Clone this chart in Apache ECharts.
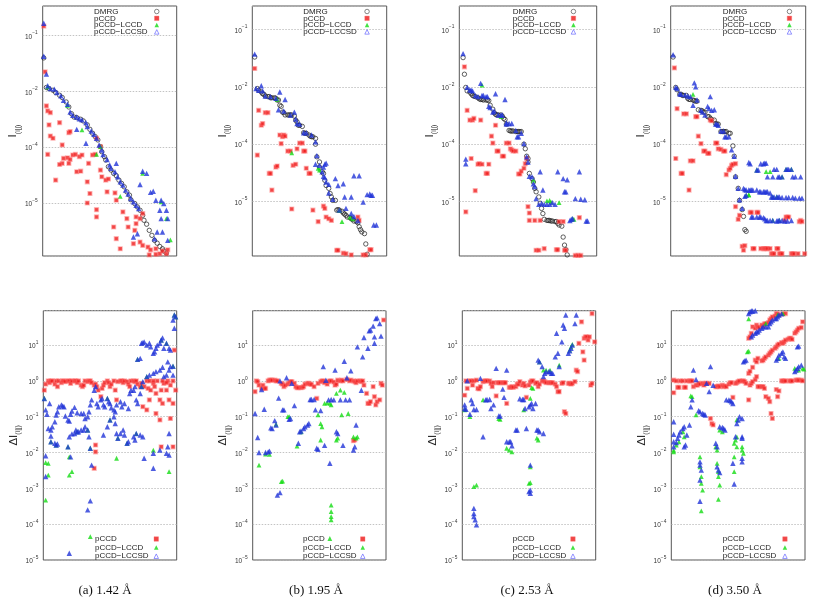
<!DOCTYPE html>
<html><head><meta charset="utf-8">
<script src="https://cdn.jsdelivr.net/npm/echarts@6/dist/echarts.min.js"></script>
<style>html,body{margin:0;padding:0;background:#fff}#c{width:830px;height:602px}</style>
</head><body><div id="c"></div>
<script>
// Each point: [orbital-pair index (% of panel width), log10(value)]
// ---- (a) 1.42 Å, I(i|j) ----
const aTopDMRG=[[0,-1.40],[2,-1.93],[4,-1.95],[7,-1.98],[9,-2.02],[12,-2.07],[14,-2.11],[17,-2.19],[19,-2.28],[21,-2.40],[23,-2.46],[25,-2.47],[28,-2.50],[30,-2.53],[33,-2.60],[35,-2.68],[37,-2.75],[39,-2.81],[41,-2.87],[43,-2.99],[44,-3.08],[46,-3.17],[47,-3.23],[49,-3.35],[51,-3.41],[53,-3.47],[55,-3.51],[57,-3.59],[59,-3.65],[61,-3.71],[63,-3.80],[65,-3.86],[66,-3.94],[69,-4.01],[71,-4.07],[73,-4.13],[75,-4.22],[76,-4.31],[78,-4.38],[80,-4.49],[82,-4.58],[84,-4.67],[86,-4.72],[88,-4.78],[90,-4.82],[91,-4.86],[93,-4.90]];
const aTopPCCD=[[0,-0.83],[1,-1.65],[2,-2.26],[3,-2.35],[5,-2.38],[4,-2.60],[12,-2.56],[5,-2.80],[7,-2.84],[3,-3.13],[14,-2.96],[19,-2.74],[20,-2.72],[18,-3.19],[15,-3.20],[14,-3.29],[12,-3.31],[9,-3.59],[22,-3.14],[24,-3.13],[27,-3.17],[20,-3.22],[19,-3.29],[29,-3.14],[25,-3.44],[28,-3.43],[34,-3.29],[33,-3.62],[37,-3.14],[39,-3.13],[40,-2.84],[43,-2.99],[35,-3.83],[33,-4.00],[40,-4.12],[40,-4.25],[43,-3.41],[44,-3.53],[47,-3.59],[49,-3.57],[48,-3.80],[54,-3.82],[55,-3.95],[53,-4.43],[55,-4.64],[60,-4.16],[63,-4.28],[64,-4.43],[70,-4.25],[70,-4.37],[69,-4.49],[73,-4.28],[75,-4.19],[73,-4.70],[75,-4.76],[79,-4.79],[81,-4.84],[85,-4.82],[88,-4.91],[90,-4.86],[93,-4.91],[94,-4.84],[58,-4.82],[68,-4.73],[80,-4.93],[85,-4.92]];
const aTopLCCD=[[3,-1.92],[18,-2.25],[29,-2.69],[40,-3.13],[43,-2.99],[58,-3.88],[75,-3.47],[89,-3.98],[93,-4.28],[96,-4.66]];
const aTopLCCSD=[[0,-0.78],[0,-1.37],[2,-1.69],[3,-1.90],[5,-1.95],[8,-1.96],[10,-2.02],[13,-2.08],[15,-2.16],[18,-2.23],[20,-2.37],[22,-2.43],[25,-2.46],[27,-2.49],[29,-2.51],[32,-2.56],[25,-2.68],[32,-2.93],[33,-2.63],[36,-2.71],[38,-2.77],[40,-2.84],[42,-2.96],[44,-3.05],[45,-3.13],[48,-3.22],[50,-3.32],[51,-3.38],[54,-3.44],[55,-3.29],[56,-3.53],[58,-3.62],[60,-3.68],[62,-3.77],[64,-3.84],[66,-3.92],[68,-3.98],[68,-4.61],[70,-4.04],[71,-4.55],[72,-4.10],[73,-3.67],[75,-3.43],[78,-3.47],[81,-3.81],[83,-3.79],[85,-3.95],[88,-4.13],[89,-3.95],[91,-4.01],[93,-4.13],[89,-4.28],[94,-4.28],[86,-4.52],[90,-4.52],[94,-4.67],[84,-4.64]];
// ---- (b) 1.95 Å, I(i|j) ----
const bTopDMRG=[[1,-1.48],[3,-2.03],[4,-2.06],[6,-2.09],[7,-2.12],[8,-2.13],[9,-2.16],[11,-2.17],[12,-2.17],[13,-2.19],[14,-2.19],[16,-2.19],[17,-2.20],[18,-2.23],[19,-2.23],[20,-2.32],[21,-2.34],[22,-2.44],[23,-2.45],[24,-2.49],[26,-2.49],[27,-2.49],[28,-2.49],[29,-2.49],[31,-2.51],[32,-2.58],[33,-2.61],[34,-2.67],[35,-2.67],[37,-2.69],[38,-2.80],[39,-2.81],[40,-2.81],[42,-2.84],[43,-2.86],[44,-2.87],[45,-2.87],[47,-2.90],[47,-3.00],[48,-3.22],[50,-3.31],[50,-3.40],[52,-3.48],[53,-3.51],[54,-3.63],[55,-3.72],[57,-3.77],[58,-3.86],[59,-3.92],[60,-3.98],[62,-3.98],[63,-4.15],[64,-4.14],[65,-4.15],[67,-4.17],[68,-4.20],[69,-4.22],[70,-4.24],[71,-4.27],[73,-4.28],[74,-4.30],[75,-4.31],[76,-4.34],[78,-4.35],[79,-4.37],[80,-4.44],[81,-4.49],[82,-4.53],[84,-4.56],[85,-4.74],[86,-4.92]];
const bTopPCCD=[[1,-1.68],[3,-3.19],[4,-2.41],[6,-2.67],[7,-2.64],[9,-2.45],[11,-2.45],[12,-3.51],[13,-3.51],[14,-3.80],[17,-3.40],[18,-3.38],[20,-2.84],[22,-2.87],[23,-2.84],[21,-2.99],[24,-2.86],[26,-3.12],[28,-3.12],[29,-4.13],[30,-3.37],[32,-3.35],[33,-3.08],[35,-2.98],[37,-2.98],[38,-3.12],[39,-3.12],[40,-3.42],[42,-3.51],[43,-3.51],[45,-4.15],[49,-4.35],[53,-4.08],[54,-4.12],[55,-4.27],[57,-4.30],[59,-4.33],[63,-4.85],[64,-4.85],[68,-4.90],[70,-4.91],[74,-4.93],[83,-4.93],[85,-4.93],[88,-4.84],[89,-4.84],[79,-4.27],[80,-4.33]];
const bTopLCCD=[[18,-2.22],[29,-3.15],[49,-3.42],[50,-3.45],[65,-4.16],[67,-4.35],[73,-4.27],[75,-4.30]];
const bTopLCCSD=[[1,-1.43],[2,-2.03],[4,-2.06],[6,-1.98],[7,-2.07],[9,-2.16],[13,-2.17],[17,-2.20],[20,-2.09],[19,-2.40],[23,-2.42],[24,-2.22],[28,-2.49],[31,-2.44],[32,-2.56],[33,-2.64],[35,-2.65],[38,-2.80],[40,-2.80],[44,-2.84],[47,-2.96],[48,-3.20],[47,-3.35],[50,-3.37],[53,-3.40],[54,-3.35],[55,-3.33],[52,-3.48],[53,-3.56],[54,-3.58],[55,-3.66],[57,-3.70],[57,-3.85],[60,-3.96],[62,-3.60],[64,-3.72],[68,-3.69],[69,-3.92],[74,-3.92],[76,-3.55],[80,-3.55],[83,-4.01],[86,-3.88],[88,-3.87],[89,-3.89],[90,-3.89],[91,-4.41],[93,-4.41],[70,-4.12],[74,-4.21],[76,-4.26],[65,-4.15],[79,-4.33]];
// ---- (c) 2.53 Å, I(i|j) ----
const cTopDMRG=[[2,-1.49],[3,-1.78],[4,-2.01],[5,-2.07],[7,-2.09],[8,-2.12],[9,-2.15],[10,-2.16],[11,-2.17],[13,-2.19],[14,-2.21],[15,-2.22],[16,-2.22],[17,-2.23],[19,-2.23],[20,-2.23],[21,-2.24],[22,-2.32],[24,-2.39],[25,-2.45],[26,-2.48],[27,-2.49],[28,-2.49],[30,-2.49],[31,-2.51],[32,-2.55],[33,-2.57],[34,-2.65],[36,-2.76],[37,-2.77],[38,-2.77],[39,-2.77],[41,-2.78],[42,-2.78],[43,-2.78],[44,-2.78],[45,-2.78],[47,-3.00],[48,-3.08],[49,-3.21],[50,-3.25],[50,-3.31],[51,-3.51],[53,-3.60],[54,-3.66],[55,-3.77],[56,-3.83],[58,-3.92],[59,-4.03],[60,-4.12],[61,-4.21],[62,-4.31],[64,-4.33],[65,-4.33],[66,-4.33],[67,-4.34],[68,-4.34],[70,-4.35],[71,-4.35],[72,-4.38],[73,-4.41],[75,-4.43],[76,-4.62],[77,-4.76],[78,-4.84],[79,-4.93]];
const cTopPCCD=[[3,-1.65],[4,-4.18],[5,-2.41],[7,-2.58],[8,-3.25],[9,-2.58],[10,-2.55],[11,-3.81],[13,-3.35],[15,-2.58],[14,-3.34],[16,-3.35],[19,-3.51],[20,-3.51],[21,-3.35],[23,-2.86],[24,-2.98],[26,-2.67],[27,-3.12],[28,-3.12],[31,-3.21],[32,-3.21],[34,-2.98],[36,-2.98],[37,-3.08],[38,-3.10],[39,-3.12],[41,-3.12],[43,-3.52],[44,-3.52],[45,-3.47],[47,-3.42],[48,-3.34],[49,-3.25],[50,-4.09],[51,-4.20],[51,-4.33],[55,-4.33],[56,-4.85],[58,-4.85],[59,-4.33],[62,-4.82],[71,-4.84],[72,-4.84],[73,-4.35],[76,-4.35],[77,-4.85],[78,-4.85],[85,-4.94],[87,-4.94],[89,-4.94],[88,-4.28]];
const cTopLCCD=[[16,-1.97],[30,-2.52],[54,-3.63],[64,-3.99],[66,-3.98],[67,-4.01],[73,-4.02],[83,-4.30],[84,-4.31]];
const cTopLCCSD=[[2,-1.42],[4,-3.26],[4,-3.34],[5,-2.01],[7,-2.05],[8,-2.06],[9,-2.07],[11,-2.15],[13,-2.17],[15,-1.94],[16,-2.15],[17,-2.15],[19,-2.17],[20,-2.17],[21,-2.34],[22,-2.36],[24,-2.44],[25,-2.42],[26,-2.12],[28,-2.49],[30,-2.49],[31,-2.49],[33,-2.22],[34,-2.65],[34,-2.63],[36,-2.64],[38,-2.64],[41,-2.76],[42,-2.87],[43,-2.87],[45,-2.81],[47,-2.99],[49,-3.22],[50,-3.31],[51,-3.56],[53,-3.57],[54,-3.69],[55,-3.74],[56,-3.95],[58,-4.05],[59,-3.48],[60,-4.03],[61,-3.80],[62,-4.05],[64,-4.05],[66,-4.05],[68,-4.02],[70,-4.05],[72,-3.48],[76,-3.60],[77,-3.83],[78,-3.83],[79,-3.62],[81,-4.33],[82,-4.31],[83,-4.30],[85,-3.95],[88,-3.48],[89,-3.96],[92,-3.97],[93,-4.34],[94,-4.34]];
// ---- (d) 3.50 Å, I(i|j) ----
const dTopDMRG=[[1,-1.48],[3,-2.01],[4,-2.05],[6,-2.13],[7,-2.13],[8,-2.15],[9,-2.15],[11,-2.15],[12,-2.20],[13,-2.22],[14,-2.22],[16,-2.23],[17,-2.24],[18,-2.25],[19,-2.25],[20,-2.40],[22,-2.41],[23,-2.42],[24,-2.44],[25,-2.44],[27,-2.52],[28,-2.52],[29,-2.55],[30,-2.57],[32,-2.58],[33,-2.64],[34,-2.65],[35,-2.65],[37,-2.78],[38,-2.78],[39,-2.78],[40,-2.78],[41,-2.78],[43,-2.81],[44,-2.81],[46,-3.03],[47,-3.21],[48,-3.57],[50,-3.77],[51,-3.98],[53,-4.14],[54,-4.26],[55,-4.49],[56,-4.52]];
const dTopPCCD=[[2,-1.67],[3,-3.25],[4,-2.38],[7,-3.51],[8,-3.51],[13,-3.80],[9,-2.47],[11,-2.47],[14,-3.29],[16,-3.29],[18,-2.52],[19,-2.52],[20,-2.86],[22,-2.99],[24,-3.12],[25,-3.12],[27,-3.16],[28,-3.16],[29,-2.58],[30,-2.59],[33,-2.98],[34,-2.98],[35,-3.08],[37,-3.09],[39,-3.12],[40,-3.12],[41,-3.53],[43,-3.45],[44,-3.42],[45,-3.37],[46,-3.35],[48,-3.34],[48,-4.09],[50,-4.31],[51,-4.24],[53,-4.78],[54,-4.85],[55,-4.77],[59,-4.19],[60,-4.19],[61,-4.82],[62,-4.82],[64,-4.19],[65,-4.19],[67,-4.82],[69,-4.82],[70,-4.82],[71,-4.82],[72,-4.82],[74,-4.82],[75,-4.91],[76,-4.91],[77,-4.91],[79,-4.82],[80,-4.82],[81,-4.91],[82,-4.91],[83,-4.91],[85,-4.33],[86,-4.27],[87,-4.27],[88,-4.27],[90,-4.91],[91,-4.91],[92,-4.91],[95,-4.91],[96,-4.35],[97,-4.33],[98,-4.35],[100,-4.91]];
const dTopLCCD=[[16,-2.13],[56,-3.89],[58,-3.88],[58,-3.89],[71,-3.48],[74,-3.48],[76,-3.92],[79,-3.92],[64,-3.45],[86,-3.44],[90,-3.44],[83,-3.57],[76,-4.33],[81,-4.33]];
const dTopLCCSD=[[1,-1.44],[3,-2.01],[4,-2.03],[6,-2.12],[7,-2.13],[10,-2.14],[12,-2.16],[14,-2.17],[16,-2.32],[17,-1.93],[18,-2.00],[19,-2.23],[22,-2.41],[23,-2.44],[25,-2.49],[27,-2.34],[28,-2.38],[29,-2.17],[30,-2.41],[32,-2.40],[33,-2.65],[34,-2.65],[35,-2.67],[37,-2.77],[39,-2.77],[40,-2.87],[41,-2.87],[43,-2.87],[45,-3.10],[47,-3.21],[48,-3.56],[50,-3.77],[51,-3.97],[53,-4.12],[54,-3.77],[55,-3.79],[56,-3.80],[58,-3.80],[59,-3.80],[60,-3.80],[61,-3.80],[64,-3.80],[66,-3.83],[67,-3.83],[69,-3.83],[70,-3.83],[71,-3.83],[72,-3.83],[74,-3.85],[75,-3.92],[76,-3.92],[77,-3.92],[79,-3.92],[80,-3.92],[81,-3.92],[83,-3.93],[86,-3.93],[88,-3.93],[91,-3.93],[93,-3.94],[96,-3.94],[98,-3.94],[58,-3.32],[59,-3.34],[64,-3.45],[65,-3.45],[67,-3.34],[69,-3.34],[70,-3.33],[71,-3.33],[72,-3.57],[76,-3.57],[77,-3.44],[79,-3.44],[80,-3.57],[81,-3.57],[83,-3.57],[86,-3.44],[87,-3.44],[88,-3.44],[90,-3.44],[91,-3.57],[93,-3.57],[97,-3.57],[60,-4.27],[61,-4.27],[64,-4.27],[66,-4.27],[67,-4.27],[69,-4.28],[70,-4.30],[71,-4.33],[72,-4.33],[74,-4.33],[76,-4.33],[79,-4.34],[80,-4.33],[81,-4.33],[83,-4.33],[85,-4.34],[87,-4.34],[90,-4.33],[55,-3.91],[56,-3.89]];
// ---- ΔI(i|j), panel (a) ----
const aBotPCCD=[[0,-0.26],[1,-0.09],[3,0.00],[4,-0.05],[5,0.00],[6,0.00],[8,-0.09],[9,0.00],[10,-0.16],[11,0.00],[13,-0.05],[14,0.00],[15,0.00],[16,-0.02],[18,0.00],[19,0.00],[20,-0.07],[21,0.00],[23,0.00],[24,0.00],[25,-0.05],[26,0.00],[28,-0.12],[29,-0.16],[30,-0.12],[31,0.00],[33,-0.02],[34,0.00],[35,0.00],[36,-0.05],[38,-0.12],[39,-0.09],[40,-0.16],[41,-0.26],[43,-0.44],[44,-0.21],[45,-0.12],[46,-0.05],[48,0.00],[49,-0.05],[50,-0.16],[51,-0.09],[53,0.00],[54,-0.26],[55,-0.53],[56,-0.02],[58,0.00],[59,0.00],[60,-0.05],[61,0.00],[63,-0.02],[64,-0.09],[65,-0.16],[66,0.00],[68,0.00],[69,-0.02],[70,0.00],[71,-0.09],[73,-0.16],[74,-0.07],[75,-0.72],[76,-0.16],[78,-0.81],[79,-0.21],[80,-0.53],[81,-0.26],[83,-0.07],[84,-0.16],[85,-0.35],[86,0.00],[88,-0.53],[89,-0.26],[90,-0.63],[91,-0.07],[93,-0.26],[94,0.00],[95,-0.53],[96,-0.12],[98,-0.63],[99,0.86],[100,-0.26],[85,-0.91],[88,-1.09],[96,-1.05],[89,-1.84],[98,-1.84],[39,-1.79],[39,-1.98],[38,-2.44],[78,0.00],[80,0.00],[83,0.00],[90,0.00],[93,-0.05],[98,0.00]];
const aBotLCCD=[[1,-3.33],[1,-2.28],[3,-2.30],[3,-2.63],[19,-2.12],[19,-2.63],[21,-2.53],[55,-2.16],[83,-1.93],[95,-2.53],[35,-4.35],[0,-0.49],[5,-1.70],[9,-1.79],[25,-1.42],[33,-1.37],[50,-1.09],[63,-1.74],[74,-0.16],[78,0.12],[89,1.14],[93,1.05],[99,1.84],[100,1.79],[98,0.41],[71,0.60],[35,-1.88],[18,-1.84],[56,-1.60],[70,-1.47],[48,-0.49]];
const aBotLCCSD=[[0,-0.49],[1,-0.81],[2,-0.93],[4,-0.63],[3,-1.33],[5,-1.37],[5,-1.54],[6,-1.28],[8,-1.14],[9,-0.95],[10,-0.86],[11,-0.72],[13,-0.67],[14,-0.70],[15,-0.72],[16,-0.98],[18,-1.09],[19,-1.12],[20,-0.93],[21,-0.84],[23,-0.74],[25,-0.89],[28,-0.91],[30,-0.91],[31,-1.05],[33,-1.00],[34,-0.86],[35,-0.67],[36,-0.53],[38,-0.26],[39,-0.16],[40,-0.63],[41,-0.72],[43,-0.53],[44,-0.49],[45,-0.67],[46,-0.72],[48,-0.49],[49,-0.58],[50,-0.63],[51,-0.75],[53,-0.81],[54,-0.86],[55,-0.67],[58,-0.58],[59,-0.72],[61,-0.63],[64,-0.77],[65,-0.35],[66,-0.26],[68,-0.26],[69,-0.16],[70,-0.53],[71,-0.63],[73,-0.35],[74,-0.16],[75,-0.02],[78,0.12],[80,0.16],[83,0.21],[85,0.26],[88,0.30],[90,0.38],[91,0.12],[93,0.16],[95,0.30],[96,0.40],[71,0.60],[73,0.63],[74,1.05],[75,1.07],[76,1.09],[78,1.00],[80,1.05],[81,0.95],[83,0.77],[84,0.81],[85,0.91],[86,1.00],[88,1.05],[89,1.14],[90,1.20],[91,0.91],[93,1.05],[94,0.53],[95,0.91],[96,0.86],[98,0.41],[98,0.16],[99,1.47],[100,1.79],[99,1.84],[98,1.70],[5,-1.70],[8,-1.74],[9,-1.79],[10,-1.76],[18,-1.84],[19,-1.56],[21,-1.48],[23,-1.47],[24,-1.37],[25,-1.42],[26,-1.42],[28,-1.37],[30,-1.37],[31,-1.28],[33,-1.37],[34,-1.56],[35,-1.88],[36,-2.35],[45,-1.51],[48,-1.28],[50,-1.09],[53,-1.00],[54,-1.19],[55,-1.47],[56,-1.60],[58,-1.47],[60,-1.37],[61,-1.51],[63,-1.74],[64,-1.70],[68,-1.56],[69,-1.65],[70,-1.47],[73,-1.51],[75,-1.56],[83,-2.02],[88,-1.93],[93,-2.02],[94,-1.84],[95,-1.47],[1,-2.09],[1,-2.67],[20,-2.12],[35,-3.35],[33,-3.60],[19,-4.81],[76,-2.16],[83,-2.44],[95,-2.07]];
// ---- ΔI(i|j), panel (b) ----
const bBotPCCD=[[1,-0.30],[2,0.00],[3,-0.02],[4,-0.12],[6,-0.21],[7,-0.12],[8,-0.21],[9,-0.21],[11,0.00],[12,0.02],[13,0.02],[14,0.02],[16,0.02],[17,0.00],[18,0.00],[21,-0.07],[22,-0.09],[23,-0.16],[24,-0.12],[26,-0.09],[27,-0.05],[28,-0.02],[29,-0.02],[31,-0.07],[32,-0.16],[33,-0.19],[34,-0.19],[36,-0.19],[37,-0.18],[38,-0.16],[39,-0.09],[41,-0.07],[42,-0.07],[43,-0.09],[44,-0.10],[46,-0.16],[48,-0.49],[49,-0.07],[51,-0.02],[52,0.00],[53,0.00],[54,-0.05],[56,-0.09],[57,-0.02],[58,0.00],[59,0.00],[61,-0.03],[62,-0.12],[63,-0.09],[64,0.02],[66,0.00],[67,0.02],[68,0.00],[71,0.04],[73,0.00],[74,0.02],[76,0.00],[77,-0.02],[78,-0.05],[79,0.00],[81,0.00],[82,-0.02],[83,0.00],[84,-0.12],[86,-0.35],[87,-0.63],[88,-0.63],[89,-0.58],[91,-0.16],[92,-0.44],[93,-0.67],[94,-0.58],[96,-0.53],[97,-0.07],[98,-0.12],[99,1.70],[76,-1.67],[77,-1.65]];
const bBotLCCD=[[4,-2.35],[9,-2.04],[12,-2.05],[17,-1.21],[26,-1.00],[27,-1.00],[33,-1.82],[36,-1.42],[49,-0.95],[51,-1.19],[52,-1.28],[51,-1.65],[54,-0.63],[56,-0.61],[58,-0.63],[59,-0.67],[22,-2.80],[21,-2.81],[59,-3.47],[59,-3.65],[59,-3.79],[59,-3.88],[58,-4.40],[63,-1.65],[64,-1.60],[66,-0.26],[67,-0.95],[69,-0.32],[72,-0.91],[76,-1.56],[78,-1.60],[79,-1.56],[63,-0.35]];
const bBotLCCSD=[[1,-0.91],[3,-1.58],[4,-2.00],[6,-0.24],[8,-0.79],[9,-2.00],[11,-1.98],[12,-1.96],[13,-1.31],[14,-1.33],[16,-1.11],[17,-1.23],[19,-0.48],[20,0.00],[22,-0.81],[23,-0.81],[25,0.09],[27,-1.07],[28,-1.05],[29,-0.07],[31,-0.69],[34,-1.74],[35,-1.42],[36,-1.40],[38,-1.33],[39,-1.28],[41,-1.23],[42,-1.19],[43,-0.52],[44,-0.52],[46,-0.52],[47,-0.81],[48,-1.88],[49,-1.91],[51,-0.83],[53,0.40],[54,-1.80],[55,0.02],[57,-0.53],[58,-2.30],[59,-0.52],[61,-0.53],[62,0.30],[63,-1.42],[64,-1.47],[66,-0.53],[68,-1.80],[69,0.55],[70,-0.53],[71,0.09],[73,-0.53],[74,0.28],[76,-1.93],[77,-1.84],[78,-1.23],[79,0.95],[82,-0.26],[83,0.67],[84,1.21],[87,0.91],[88,1.40],[89,1.42],[91,1.53],[92,1.05],[92,1.23],[93,1.74],[94,1.76],[96,1.60],[97,1.25],[18,-3.19],[20,-3.12]];
// ---- ΔI(i|j), panel (c) ----
const cBotPCCD=[[1,-0.40],[2,0.00],[3,-0.21],[5,0.00],[6,0.00],[7,-0.12],[8,0.00],[10,0.02],[11,-0.21],[12,-0.22],[13,-0.16],[15,-0.02],[16,0.00],[17,0.00],[18,0.00],[20,0.00],[21,-0.07],[22,-0.16],[23,-0.05],[25,-0.42],[26,-0.05],[27,-0.05],[28,-0.05],[30,-0.05],[31,-0.05],[32,-0.05],[33,-0.63],[35,-0.18],[36,-0.18],[37,-0.16],[38,-0.18],[40,-0.16],[41,-0.09],[42,-0.09],[43,-0.02],[45,-0.12],[46,-0.07],[47,-0.14],[48,-0.46],[50,-0.12],[51,-0.03],[52,0.00],[53,0.00],[55,-0.07],[56,-0.05],[57,-0.16],[58,-0.09],[60,0.00],[61,0.00],[62,-0.02],[63,-0.05],[65,-0.05],[66,-0.05],[67,-0.05],[68,-0.05],[70,-0.09],[71,-0.16],[72,-0.30],[73,-0.30],[75,-0.07],[76,-0.05],[77,-0.86],[78,-0.91],[80,-0.07],[81,-0.07],[82,-0.09],[83,-0.07],[85,-0.02],[86,0.30],[87,0.26],[88,1.05],[90,1.65],[91,0.81],[92,0.58],[92,1.19],[93,1.23],[94,1.23],[95,1.14],[96,1.23],[97,-0.12],[98,-0.07],[98,1.88],[100,1.09]];
const cBotLCCD=[[1,-0.81],[5,-1.00],[8,-2.95],[10,-2.91],[15,-0.53],[27,-1.05],[28,-1.07],[33,-1.88],[35,-1.93],[37,-1.98],[46,-0.81],[51,-2.40],[51,-2.84],[50,-2.86],[52,-0.19],[53,-0.21],[56,-1.60],[57,-1.65],[58,0.53],[61,0.30],[63,0.30],[66,0.30],[73,0.44],[81,0.86],[82,0.95],[83,1.02],[51,-0.49]];
const cBotLCCSD=[[1,-0.67],[2,-0.79],[3,0.00],[5,-0.93],[6,-0.53],[7,-0.63],[8,-0.80],[10,-0.80],[13,0.07],[15,-1.56],[17,-0.53],[18,-0.52],[20,-0.52],[21,-0.77],[23,-0.67],[25,0.35],[27,-0.98],[28,-0.98],[30,-0.23],[31,-0.46],[33,0.30],[33,-1.70],[35,-1.70],[36,-1.70],[37,-1.81],[40,-1.37],[41,-1.37],[43,-0.50],[45,-0.52],[46,-0.52],[47,-0.77],[48,-1.33],[50,-0.72],[51,-0.67],[52,-0.63],[53,-0.77],[55,-0.63],[56,-1.37],[57,0.58],[58,0.53],[60,0.40],[61,0.12],[62,0.21],[63,0.26],[65,0.26],[66,0.26],[67,0.21],[68,0.21],[70,0.67],[71,1.33],[72,0.77],[73,0.40],[75,1.09],[76,1.56],[77,1.47],[78,1.84],[80,0.77],[81,0.84],[82,0.91],[83,1.00],[85,1.60],[86,1.84],[57,-1.37],[58,-1.42],[61,-1.47],[1,-0.77],[8,-3.56],[8,-3.70],[8,-3.79],[9,-3.88],[10,-4.02],[51,-2.35],[51,-3.05],[50,-3.09],[51,-3.14]];
// ---- ΔI(i|j), panel (d) ----
const dBotPCCD=[[1,-0.33],[1,0.02],[3,0.00],[4,-0.18],[5,-0.18],[6,0.00],[8,0.00],[9,-0.18],[10,-0.18],[11,0.00],[13,0.00],[14,0.00],[15,0.00],[16,-0.16],[18,-0.12],[19,-0.12],[20,-0.07],[21,-0.09],[23,-0.07],[24,-0.12],[25,-0.07],[26,-0.07],[28,-0.07],[29,-1.05],[30,-1.19],[31,-1.23],[33,-0.16],[34,-0.16],[35,-0.14],[36,-0.16],[38,-0.12],[39,-0.16],[40,-0.14],[41,-0.16],[43,-0.09],[44,-0.05],[45,-0.05],[46,-0.46],[48,-0.07],[49,-0.05],[50,-0.02],[51,0.00],[53,0.00],[54,0.00],[55,-0.02],[56,-0.07],[58,-0.53],[59,-0.12],[60,-0.07],[61,-0.02],[63,0.04],[64,0.12],[65,-0.16],[66,-0.16],[68,-0.16],[69,-0.16],[70,-0.21],[71,-0.44],[73,-0.49],[74,-0.58],[75,-0.91],[76,-1.05],[79,-0.24],[80,-0.44],[81,-0.28],[83,0.00],[84,0.00],[85,0.00],[86,0.00],[89,0.00],[90,0.00],[91,0.00],[94,0.02],[95,0.02],[96,0.02],[98,0.02],[99,0.00],[58,1.19],[59,1.23],[60,1.33],[61,1.51],[63,1.47],[64,1.56],[65,1.51],[66,1.49],[68,1.56],[69,1.53],[70,1.59],[71,1.60],[73,1.63],[74,1.70],[75,1.74],[76,1.79],[78,1.81],[79,1.88],[80,1.87],[81,1.84],[84,1.87],[86,1.88],[58,0.21],[59,0.27],[61,0.38],[63,0.58],[64,0.53],[65,0.63],[68,0.56],[69,0.58],[70,0.63],[71,0.67],[73,0.72],[74,0.77],[75,0.81],[76,0.86],[78,0.91],[79,0.95],[80,1.00],[81,1.03],[83,1.07],[84,1.05],[85,1.09],[86,1.14],[88,1.16],[89,1.19],[90,1.19],[91,1.16],[93,1.33],[94,1.37],[95,1.42],[96,1.47],[98,1.49],[99,1.65]];
const dBotLCCD=[[1,-1.98],[1,-1.93],[3,-1.79],[5,-1.70],[8,-1.42],[9,-1.56],[14,-0.42],[15,-0.44],[18,-0.95],[21,-2.12],[21,-2.40],[22,-2.67],[22,-2.86],[23,-3.05],[22,-3.63],[33,-1.84],[34,-1.93],[34,-2.30],[35,-2.53],[35,-2.67],[36,-2.91],[35,-3.31],[36,-1.37],[38,-1.42],[47,-2.12],[47,-2.53],[47,-1.74],[48,-1.65],[49,-1.84],[49,-1.56],[53,-1.84],[53,-1.93],[54,-2.02],[49,-1.09],[58,1.98],[58,1.73],[57,0.81],[58,0.83],[71,1.60],[80,1.84],[84,1.88],[81,0.63],[93,0.35],[96,0.30],[99,0.35],[100,0.33]];
const dBotLCCSD=[[1,-1.14],[1,-1.84],[3,-1.72],[4,-1.60],[5,-1.51],[6,-1.42],[8,-1.33],[9,-1.28],[9,-1.84],[10,-1.79],[11,-1.51],[13,-1.23],[14,-0.72],[15,-0.53],[16,0.30],[18,0.04],[20,-0.83],[21,-0.86],[23,-0.91],[24,-0.93],[25,-0.95],[26,-0.07],[28,-0.30],[29,0.40],[31,-0.12],[33,-1.74],[34,-1.84],[36,-1.28],[38,-1.30],[39,-1.33],[40,-1.37],[41,-0.53],[43,-0.53],[44,-0.55],[45,-0.58],[46,-0.63],[48,-1.56],[49,-1.19],[50,-1.09],[51,-1.00],[53,-1.05],[53,-1.56],[53,-1.60],[54,0.53],[55,0.56],[56,0.58],[58,1.88],[59,1.93],[60,1.95],[61,1.95],[63,1.96],[60,1.23],[61,1.28],[63,1.33],[64,1.37],[65,1.37],[66,1.42],[68,1.47],[69,1.51],[71,1.51],[73,1.51],[74,1.60],[75,1.65],[76,1.70],[78,1.74],[79,1.74],[80,1.79],[81,1.84],[83,1.87],[79,0.58],[80,0.63],[81,0.72],[83,0.77],[84,0.81],[85,0.67],[86,0.63],[95,0.95],[96,0.97],[93,0.26],[94,0.30],[95,0.35],[96,0.40],[98,0.44],[1,-1.49],[1,-1.70],[21,-2.26],[21,-2.35],[22,-2.49],[21,-2.77],[21,-3.36],[34,-2.40],[35,-2.49],[36,-2.56],[47,-2.88],[46,-2.30],[53,-2.26],[53,-2.16]];

// tick labels (exponents of 10) as printed on the axes
const topExpLabels = {'-1':'−1','-2':'−2','-3':'−4','-4':'−5'};
const botExpLabels = {'-5':'−5','-4':'−4','-3':'−3','-2':'−2','-1':'−1','0':'0','1':'1'};
const captions = ['(a) 1.42 Å','(b) 1.95 Å','(c) 2.53 Å','(d) 3.50 Å'];
const seriesNames = ['DMRG','pCCD','pCCD−LCCD','pCCD−LCCSD'];

const topData = [[aTopDMRG,aTopPCCD,aTopLCCD,aTopLCCSD],[bTopDMRG,bTopPCCD,bTopLCCD,bTopLCCSD],[cTopDMRG,cTopPCCD,cTopLCCD,cTopLCCSD],[dTopDMRG,dTopPCCD,dTopLCCD,dTopLCCSD]];
const botData = [[aBotPCCD,aBotLCCD,aBotLCCSD],[bBotPCCD,bBotLCCD,bBotLCCSD],[cBotPCCD,cBotLCCD,cBotLCCSD],[dBotPCCD,dBotLCCD,dBotLCCSD]];

// layout
const topGrids = [[42.7,134],[252.3,134.4],[459.3,137.4],[670.7,135]];
const botGrids = [[43.3,133.4],[252.7,133.3],[462.3,133.4],[671.3,133.7]];
const topMax = [-0.47,-0.59,-0.59,-0.59];
const topNameGap = [17,10.5,13.3,15];
const botNameGap = [16.5,12,16.3,17.3];
const topLegend = [[94,55.5],[303.3,56.5],[512.7,53.5],[722.7,59.5]];
const botLegend = [[95,54],[303,52.5],[512.7,53],[722.7,55]];
const captionX = [105,316,527,735];

const styles = {
  'DMRG': {symbol:'circle', symbolSize:4.4, itemStyle:{color:'rgba(255,255,255,0)', borderColor:'#222', borderWidth:0.9}},
  'pCCD': {symbol:'rect', symbolSize:3.6, itemStyle:{color:'#ec1616', borderColor:'rgba(255,110,110,0.55)', borderWidth:1.6}},
  'pCCD−LCCD': {symbol:'triangle', symbolSize:4.8, itemStyle:{color:'#14dc14'}},
  'pCCD−LCCSD': {symbol:'triangle', symbolSize:5.4, itemStyle:{color:'#2234d8'}}
};
const legendIcons = {
  'DMRG': {name:'DMRG', icon:'circle', itemStyle:{color:'rgba(255,255,255,0)', borderColor:'#444', borderWidth:0.8}},
  'pCCD': {name:'pCCD', icon:'rect', itemStyle:{color:'#ec1616', borderColor:'rgba(255,110,110,0.6)', borderWidth:0.8}},
  'pCCD−LCCD': {name:'pCCD−LCCD', icon:'triangle', itemStyle:{color:'#14dc14'}},
  'pCCD−LCCSD': {name:'pCCD−LCCSD', icon:'triangle', itemStyle:{color:'rgba(255,255,255,0)', borderColor:'#6a6aff', borderWidth:0.9}}
};

const FONT = 'Liberation Sans';
const labelRich = {
  b:{fontSize:6.5, fontFamily:FONT, color:'#333', lineHeight:10, verticalAlign:'bottom'},
  s:{fontSize:4.8, fontFamily:FONT, color:'#333', lineHeight:10, verticalAlign:'top'}
};
const nameRich = {
  i:{fontSize:11.5, fontFamily:FONT, color:'#222', lineHeight:14, verticalAlign:'top'},
  s:{fontSize:7, fontFamily:FONT, color:'#222', lineHeight:14, verticalAlign:'bottom'}
};

const grid=[], xAxis=[], yAxis=[], series=[], legend=[], graphic=[];
function fmt(table){ return v => { const k = String(Math.round(v)); return (Math.abs(v-Math.round(v))<1e-6 && table[k]!==undefined) ? '{b|10}{s|'+table[k]+'}' : ''; }; }
function makeLegend(left, top, w, gap, names){
  return {left, top, orient:'vertical', align:'right', itemWidth:4.5, itemHeight:4.5, itemGap:gap, padding:0, selectedMode:false,
    data:names.map(n=>legendIcons[n]), formatter:n=>'{t|'+n+'}',
    textStyle:{fontSize:8, fontFamily:FONT, color:'#222', lineHeight:7, rich:{t:{width:w, align:'left', fontSize:8, fontFamily:FONT, color:'#222', lineHeight:7}}}};
}
const splitLine = {show:true, lineStyle:{color:'#b4b4b4', width:0.8, type:[1.5,1.5]}};

for (let p=0;p<4;p++){
  // top panel
  let gi = grid.length;
  grid.push({left:topGrids[p][0], width:topGrids[p][1], top:6, height:250, show:true, borderColor:'#555', borderWidth:1, backgroundColor:'transparent'});
  xAxis.push({type:'value', gridIndex:gi, min:-0.8, max:100.8, show:false});
  yAxis.push({type:'value', gridIndex:gi, min:-4.95, max:topMax[p], minInterval:1, maxInterval:1,
    axisLine:{show:false}, axisTick:{show:false}, splitLine,
    axisLabel:{margin:5, formatter:fmt(topExpLabels), rich:labelRich},
    name:'{i|I}{s|(i|j)}', nameLocation:'middle', nameRotate:90, nameGap:topNameGap[p], nameTextStyle:{rich:nameRich}});
  topData[p].forEach((d,k)=>{
    const n = seriesNames[k];
    series.push(Object.assign({type:'scatter', name:n, xAxisIndex:gi, yAxisIndex:gi, data:d, animation:false, z:2+k}, styles[n]));
  });
  legend.push(makeLegend(topLegend[p][0], 7.5, topLegend[p][1], -1.2, seriesNames));
  // bottom panel
  gi = grid.length;
  grid.push({left:botGrids[p][0], width:botGrids[p][1], top:310.7, height:249.3, show:true, borderColor:'#555', borderWidth:1, backgroundColor:'transparent'});
  xAxis.push({type:'value', gridIndex:gi, min:-0.8, max:100.8, show:false});
  yAxis.push({type:'value', gridIndex:gi, min:-5, max:1.96, minInterval:1, maxInterval:1,
    axisLine:{show:false}, axisTick:{show:false}, splitLine,
    axisLabel:{margin:5, formatter:fmt(botExpLabels), rich:labelRich},
    name:'{i|ΔI}{s|(i|j)}', nameLocation:'middle', nameRotate:90, nameGap:botNameGap[p], nameTextStyle:{rich:nameRich}});
  botData[p].forEach((d,k)=>{
    const n = seriesNames[k+1];
    series.push(Object.assign({type:'scatter', name:n, xAxisIndex:gi, yAxisIndex:gi, data:d, animation:false, z:3+k}, styles[n]));
  });
  legend.push(makeLegend(botLegend[p][0], 535, botLegend[p][1], 0.6, seriesNames.slice(1)));
  graphic.push({type:'text', x:captionX[p], y:591, style:{text:captions[p], align:'center', verticalAlign:'middle', fontSize:13, fontFamily:'Liberation Serif', fill:'#111'}});
}

const chart = echarts.init(document.getElementById('c'), null, {renderer:'canvas'});
chart.setOption({animation:false, backgroundColor:'#fff', grid, xAxis, yAxis, series, legend, graphic});
</script></body></html>
